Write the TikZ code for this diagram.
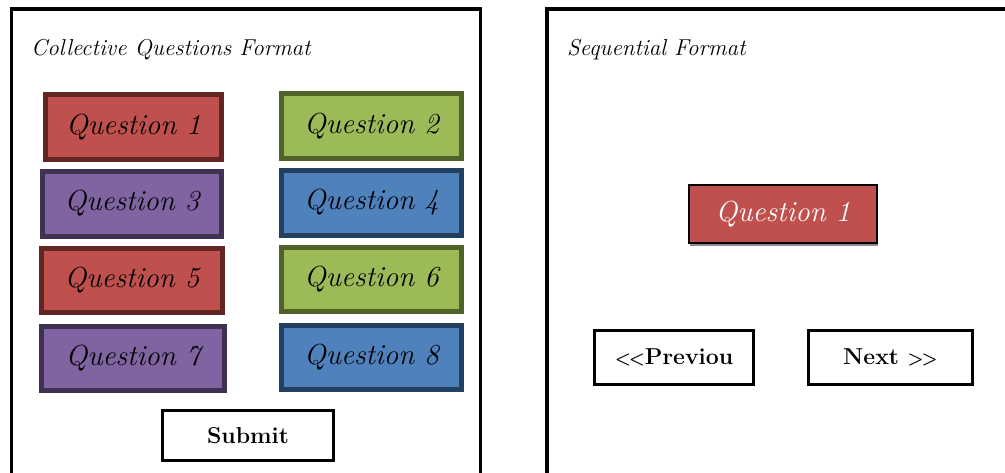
\documentclass[tikz,border=0pt]{standalone}
\usepackage{fontspec}
\usetikzlibrary{shadows}
\definecolor{qred}{HTML}{C0504D}\definecolor{qredd}{HTML}{632523}
\definecolor{qgreen}{HTML}{9BBB59}\definecolor{qgreend}{HTML}{4F6228}
\definecolor{qpurple}{HTML}{8064A2}\definecolor{qpurpled}{HTML}{3F3151}
\definecolor{qblue}{HTML}{4F81BD}\definecolor{qblued}{HTML}{244061}
\newcommand{\smallarr}[1]{{\fontsize{18}{18}\selectfont\bfseries #1}}
\tikzset{
  qbox/.style={draw, line width=5pt, inner sep=0pt, font=\fontsize{29}{32}\selectfont\itshape},
  qr/.style={qbox, fill=qred, draw=qredd},
  qg/.style={qbox, fill=qgreen, draw=qgreend},
  qp/.style={qbox, fill=qpurple, draw=qpurpled},
  qb/.style={qbox, fill=qblue, draw=qblued},
  btn/.style={draw=black, fill=white, line width=3pt, inner sep=0pt, font=\fontsize{23}{26}\selectfont\bfseries},
  panel/.style={draw=black, line width=3.5pt},
  ttl/.style={anchor=base west, inner sep=0pt, font=\fontsize{23}{26}\selectfont\itshape}
}
\begin{document}
\begin{tikzpicture}[x=1pt,y=-1pt]
\useasboundingbox (0,0) rectangle (1005,472);
\clip (0,0) rectangle (1005,472);
\draw[panel] (11.5,480) -- (11.5,9) -- (480.5,9) -- (480.5,480);
\draw[panel] (547,480) -- (547,9) -- (1020,9);
\node[ttl] (t1) at (31,55) {Collective Questions Format};
\node[ttl] (t2) at (567,55) {Sequential Format};
\node[qr, minimum width=176pt, minimum height=65pt] (q1) at (133.5,127) {Question 1};
\node[qg, minimum width=180pt, minimum height=65pt] (q2) at (371.5,126) {Question 2};
\node[qp, minimum width=179pt, minimum height=65pt] (q3) at (132,203.5) {Question 3};
\node[qb, minimum width=180pt, minimum height=65pt] (q4) at (371.5,202.5) {Question 4};
\node[qr, minimum width=181pt, minimum height=64pt] (q5) at (132,280) {Question 5};
\node[qg, minimum width=180pt, minimum height=64pt] (q6) at (371.5,279) {Question 6};
\node[qp, minimum width=183pt, minimum height=64pt] (q7) at (133,358) {Question 7};
\node[qb, minimum width=180pt, minimum height=64pt] (q8) at (371.5,357) {Question 8};
\node[btn, minimum width=171pt, minimum height=50pt] (sub) at (248,435.5) {Submit};
\node[draw=black, fill=qred, line width=1.5pt, inner sep=0pt, text=white,
      font=\fontsize{29}{32}\selectfont\itshape,
      drop shadow={shadow xshift=0.5pt, shadow yshift=-3pt, fill=black!45, opacity=1},
      minimum width=188pt, minimum height=58pt] (rq1) at (783,214) {Question 1};
\node[btn, minimum width=159pt, minimum height=54pt] (prev) at (674,357.5) {\smallarr{{<}\kern-2pt{<}}Previou};
\node[btn, minimum width=164pt, minimum height=54pt] (next) at (890.5,357.5) {Next \smallarr{{>}\kern-2pt{>}}};
\end{tikzpicture}
\end{document}
